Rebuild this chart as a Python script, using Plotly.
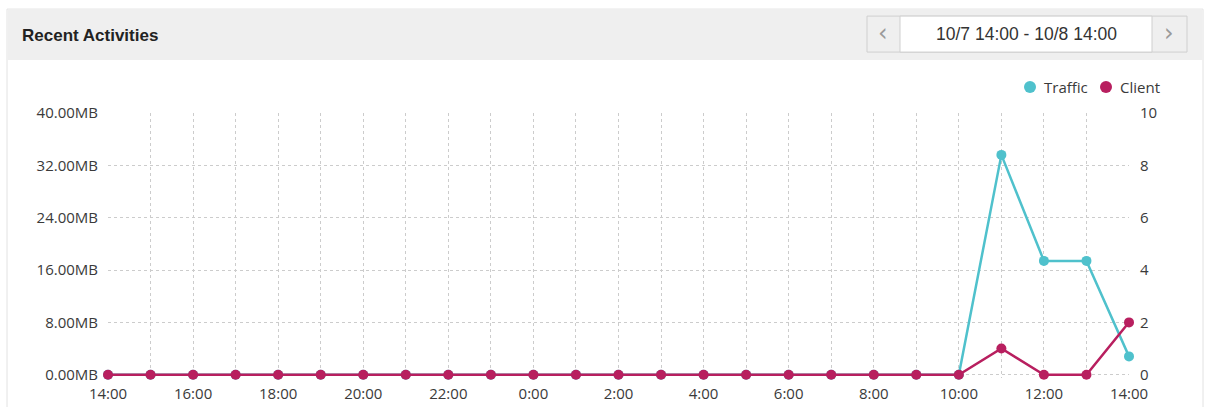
import plotly.graph_objects as go

# ---- data ----
hours = ["14:00", "15:00", "16:00", "17:00", "18:00", "19:00", "20:00", "21:00",
         "22:00", "23:00", "0:00", "1:00", "2:00", "3:00", "4:00", "5:00",
         "6:00", "7:00", "8:00", "9:00", "10:00", "11:00", "12:00", "13:00", "14:00"]
traffic_mb = [0, 0, 0, 0, 0, 0, 0, 0, 0, 0, 0, 0, 0, 0, 0, 0, 0, 0, 0, 0, 0,
              33.6, 17.4, 17.4, 2.8]
clients = [0, 0, 0, 0, 0, 0, 0, 0, 0, 0, 0, 0, 0, 0, 0, 0, 0, 0, 0, 0, 0,
           1, 0, 0, 2]
left_ticks = [0, 8, 16, 24, 32, 40]
left_labels = ["0.00MB", "8.00MB", "16.00MB", "24.00MB", "32.00MB", "40.00MB"]
right_ticks = [0, 2, 4, 6, 8, 10]
series_names = ["Traffic", "Client"]
title_text = "Recent Activities"
range_text = "10/7 14:00 - 10/8 14:00"

TRAFFIC = "#4fc1cc"
CLIENT = "#b81f5f"

W, H = 1205, 407
L, R, T, B0 = 108, 1129, 113, 375   # B0: pixel row of the zero line
PAD = 0.5                            # small range extension below zero (left-axis units)
B = B0 + PAD / 40 * (B0 - T)         # actual plot-area bottom

def px(x):
    return (x - L) / (R - L)

def py(y):
    return (B - y) / (B - T)

xs = list(range(len(hours)))
ticktext = [h if i % 2 == 0 else "" for i, h in enumerate(hours)]

fig = go.Figure()
fig.add_trace(go.Scatter(x=xs, y=traffic_mb, mode="lines+markers", name=series_names[0],
                         line=dict(color=TRAFFIC, width=2.5), marker=dict(size=10, color=TRAFFIC),
                         showlegend=False, cliponaxis=False))
fig.add_trace(go.Scatter(x=xs, y=clients, mode="lines+markers", name=series_names[1], yaxis="y2",
                         line=dict(color=CLIENT, width=2.5), marker=dict(size=10, color=CLIENT),
                         showlegend=False, cliponaxis=False))

shapes = [
    # panel
    dict(type="rect", xref="paper", yref="paper", x0=px(7), x1=px(1203), y0=py(420), y1=py(9),
         fillcolor="white", line=dict(color="#e2e2e2", width=1), layer="below"),
    # header
    dict(type="rect", xref="paper", yref="paper", x0=px(7.5), x1=px(1202.5), y0=py(60), y1=py(9.5),
         fillcolor="#efefef", line=dict(width=0), layer="below"),
    # date box
    dict(type="rect", xref="paper", yref="paper", x0=px(867), x1=px(1187), y0=py(52), y1=py(16),
         fillcolor="#efefef", line=dict(color="#cfcfcf", width=1), layer="below"),
    dict(type="rect", xref="paper", yref="paper", x0=px(900), x1=px(1152), y0=py(52), y1=py(16),
         fillcolor="white", line=dict(color="#cfcfcf", width=1), layer="below"),
]

# manual legend (circle + label)
legend_items = [(series_names[0], TRAFFIC, 1030, 1042), (series_names[1], CLIENT, 1106, 1118)]
for name, col, cx, tx in legend_items:
    shapes.append(dict(type="circle", xref="paper", yref="paper", xsizemode="pixel",
                       ysizemode="pixel", xanchor=px(cx), yanchor=py(87),
                       x0=-6, x1=6, y0=-6, y1=6, fillcolor=col, line=dict(width=0)))

tick_font = dict(family="Open Sans, Noto Sans", size=15, color="#3a3a3a")

annotations = [
    dict(text="<b>" + title_text + "</b>", xref="paper", yref="paper", x=px(20), y=py(35),
         xanchor="left", yanchor="middle", showarrow=False,
         font=dict(family="Liberation Sans, Arial", size=17, color="#222222")),
    dict(text=range_text, xref="paper", yref="paper", x=px(1026), y=py(34),
         xanchor="center", yanchor="middle", showarrow=False,
         font=dict(family="Liberation Sans, Arial", size=17.5, color="#333333")),
    dict(text="‹", xref="paper", yref="paper", x=px(883), y=py(33),
         xanchor="center", yanchor="middle", showarrow=False,
         font=dict(family="DejaVu Sans", size=24, color="#9a9a9a")),
    dict(text="›", xref="paper", yref="paper", x=px(1169), y=py(33),
         xanchor="center", yanchor="middle", showarrow=False,
         font=dict(family="DejaVu Sans", size=24, color="#9a9a9a")),
]
for name, col, cx, tx in legend_items:
    annotations.append(dict(text=name, xref="paper", yref="paper", x=px(tx), y=py(87),
                            xanchor="left", yanchor="middle", showarrow=False,
                            font=tick_font))

fig.update_layout(
    width=W, height=H,
    margin=dict(l=L, r=W - R, t=T, b=H - B, pad=0, autoexpand=False),
    paper_bgcolor="white", plot_bgcolor="rgba(0,0,0,0)",
    shapes=shapes, annotations=annotations,
    xaxis=dict(range=[0, 24], tickvals=xs, ticktext=ticktext, showgrid=True,
               gridcolor="#cccccc", griddash="dot", gridwidth=1, zeroline=False,
               showline=False, ticks="", tickfont=tick_font, ticklabelstandoff=5,
               automargin=False),
    yaxis=dict(range=[-PAD, 40], tickvals=left_ticks, ticktext=left_labels, showgrid=True,
               gridcolor="#cccccc", griddash="dot", gridwidth=1, zeroline=False,
               showline=False, ticks="", tickfont=tick_font, ticklabelstandoff=9,
               automargin=False),
    yaxis2=dict(range=[-PAD / 4, 10], tickvals=right_ticks, overlaying="y", side="right",
                showgrid=False, zeroline=False, showline=False, ticks="",
                tickfont=tick_font, ticklabelstandoff=10, automargin=False),
    showlegend=False,
)

fig.write_html("out.html", config={"displayModeBar": False},
               post_script="document.body.style.margin='0px';")
